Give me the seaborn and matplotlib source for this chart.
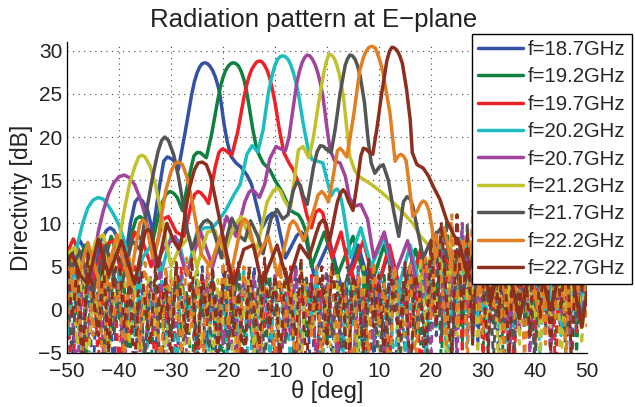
import numpy as np
import pandas as pd
import seaborn as sns
import matplotlib.pyplot as plt

# legend labels and line colours
labels = ['f=18.7GHz', 'f=19.2GHz', 'f=19.7GHz', 'f=20.2GHz', 'f=20.7GHz',
          'f=21.2GHz', 'f=21.7GHz', 'f=22.2GHz', 'f=22.7GHz']
colors = ['#3551a4', '#0f8040', '#ec2227', '#1cbcc1', '#a1449b',
          '#c1c12d', '#555555', '#e17f25', '#8c2f1e']

# solid curves: theta [deg] and directivity [dB]
theta_187 = [-50, -48.8, -47.5, -46.2, -45, -43.5, -42.4, -41.7, -41, -40, -39, -37.8, -36.9, -36.2, -35.5,
             -34.5, -33.5, -32.3, -31.4, -30.7, -30, -29.5, -28.6, -27.3, -26, -25.5, -25, -24.5, -24, -23.5,
             -23, -22.5, -22, -21.5, -21, -20.6, -19.8, -19.2, -18.5, -17.5, -16.5, -15.4, -14.5, -13.5, -12.5,
             -11.3, -10.5, -9.7, -8, -5.8, -5, -4.2, -2.5, 0.5, 3, 6, 9, 12, 15, 18,
             21, 24, 27, 30.5, 34, 37, 40, 43, 46, 49, 50]
db_187 = [4, 7, 8, 6.5, 3, 8, 9.2, 9.5, 9.2, 8, 5, 10, 12.5, 13, 12.6,
          11.5, 9, 14, 17.2, 17.7, 17.5, 17.3, 16.2, 20.5, 25, 26.4, 27.4, 28.1, 28.5, 28.6,
          28.5, 28.2, 27.7, 27, 26, 25, 21.5, 19.5, 17.8, 17, 16.5, 15.6, 14.5, 12, 9.5,
          10.8, 11.2, 10.8, 6, 8.6, 9, 8.6, 4, 8, 2, 7.5, 1, 7, 0, 6.5,
          -1, 6.5, 0, 7, -2, 6.5, -1, 7, -3, 6, 5]

theta_192 = [-50, -48.8, -46.5, -44, -41.5, -39, -37.5, -36.7, -36, -35.3, -34.5, -33.5, -32, -30.9, -30.2,
             -29.5, -28.8, -27.8, -26.3, -25.6, -25, -24.4, -24, -23.2, -22.2, -21, -20.5, -20, -19.5, -19,
             -18.5, -18, -17.5, -17, -16.5, -16, -15.5, -15.1, -14.3, -13.5, -12.3, -11, -10, -8.5, -7,
             -6.2, -5.5, -4.8, -4, -3, -0.5, 2, 5, 8, 11, 14, 17, 20, 23, 26,
             29, 32, 35.5, 39, 42, 45, 48, 50]
db_192 = [7.3, 4, 7.5, 3, 8.5, 4, 9, 10.5, 10.8, 10.5, 9.5, 8, 12, 13.4, 13.7,
          13.5, 13, 11.5, 16, 17.8, 18.2, 18.2, 18, 17.6, 20.3, 24.3, 25.8, 26.9, 27.7, 28.2,
          28.5, 28.6, 28.5, 28.2, 27.6, 26.7, 25.4, 24, 21, 18.5, 17, 16.2, 15, 13.5, 11.5,
          11.2, 11, 10.3, 9, 5, 9, 4, 8.5, 2, 7.5, 1, 7, 0, 7, -1,
          7.5, 0, 7, -2, 6.5, -1, 6.5, 4]

theta_197 = [-50, -48.8, -47, -45.5, -43, -41, -39.5, -37, -35.5, -33.8, -31.5, -30.5, -29, -27.5, -26,
             -25.4, -24.8, -24.2, -23.5, -22.8, -21.5, -20.8, -20.2, -19.6, -19.2, -18.3, -17.2, -16, -15.5, -15,
             -14.5, -14, -13.5, -13, -12.5, -12, -11.5, -11, -10.5, -10, -9.2, -8.3, -7.3, -6.5, -5.2,
             -3.8, -3, -2.2, -1.5, -0.8, 0, 1, 2.7, 4.5, 7, 9.5, 12, 15, 18, 21,
             24, 27, 30, 33, 36, 39, 42, 45, 48, 50]
db_197 = [6.5, 8.2, 6, 2, 7.5, 8, 4, 9, 8, 5, 10.5, 10.8, 9, 8.5, 12.5,
          13.4, 13.7, 13.5, 13, 12.3, 16.5, 18.2, 18.6, 18.5, 18.3, 17.9, 20.5, 24.5, 25.9, 27,
          27.8, 28.3, 28.7, 28.8, 28.7, 28.3, 27.7, 26.8, 25.5, 24, 21, 18.2, 17, 16.2, 14.3,
          10.8, 9.5, 11.3, 11.6, 11.2, 9, 6, 9, 4, 8, 2, 7.5, 0, 7, -1,
          6.5, 0, 7, -1.5, 7.5, 0, 6.5, -2, 7, 5]

theta_202 = [-50, -49, -48, -47, -46, -45, -44, -43, -42, -41, -40, -39, -38, -37,
             -35.5, -33.8, -32, -30, -28.5, -27, -25, -23.5, -22, -21, -19.5, -18, -16.7, -15.4, -14.4,
             -13.3, -12.3, -11.3, -10.8, -10.4, -10, -9.5, -9, -8.5, -8, -7.5, -7, -6.5, -6, -5.5,
             -4.5, -3.7, -2.9, -1.8, -0.8, 0, 0.8, 1.4, 1.9, 2.4, 3, 3.8, 4.5, 6.5, 8.5,
             11, 13.5, 16, 18.5, 21, 24, 27, 30, 33, 36, 39, 42, 45, 48, 50]
db_202 = [-3, 3, 7.5, 10, 11.8, 12.7, 13, 12.8, 12, 11, 9.8, 8, 5.5, 2,
          6, 7.5, 4, 8.5, 8, 4, 9, 9.5, 9.5, 10.2, 11.5, 13.2, 14.5, 18, 19,
          18.3, 20.8, 25, 26.5, 27.5, 28.3, 29, 29.3, 29.4, 29.3, 29, 28.4, 27.5, 26.4, 25,
          21.3, 18.8, 17.4, 17.2, 17, 15, 13.2, 13.8, 14, 13.6, 12, 9, 6, 9.5, 5,
          8.5, 2, 7.5, 1, 7, -1, 7.5, 0, 7, -2, 7, 0, 7.5, -1, 5]

theta_207 = [-50, -48, -45.8, -44, -43, -42, -41, -40, -39, -38, -37, -36, -35, -34, -33,
             -31.5, -29.2, -27, -24.3, -22, -19.3, -17.5, -15.8, -15, -14.4, -13.8, -13, -12, -11, -9.8,
             -8.8, -8, -7.3, -6.6, -5.8, -5.3, -4.8, -4.3, -3.8, -3.3, -2.8, -2.3, -1.8, -1.3, -0.8,
             0, 0.6, 1.5, 2.5, 3.5, 4.3, 5.3, 6.5, 7.8, 9, 11, 13, 15.5, 18, 20.5,
             23, 26, 29, 32, 35, 38, 41, 44, 47, 50]
db_207 = [4, 6.5, 2, 9, 11.5, 13.4, 14.7, 15.4, 15.6, 15.3, 14.5, 13, 11, 8, 5,
          7, 8.5, 4, 9, 5, 10.8, 8.5, 12.5, 13.6, 13.9, 13.6, 13, 14.5, 17.5, 18.9,
          18.6, 18.4, 20, 23, 26.3, 27.6, 28.6, 29.2, 29.5, 29.4, 29, 28.4, 27.5, 26.3, 24.8,
          21, 18.5, 17.2, 17, 15.5, 13, 12, 12.2, 10.5, 6, 9, 4, 8, 1, 7.5,
          0, 8, 0, 7.5, -1, 8, -1, 7, 0, 6]

theta_212 = [-50, -48.5, -46.5, -44.5, -43, -41.5, -40, -39, -38, -37, -36.2, -35.6, -35, -34, -33,
             -32, -31, -30, -28.5, -26.5, -25, -23, -21.5, -20, -18, -16.5, -15, -13.5, -11.5, -10.3,
             -9.6, -8.9, -8.3, -7.1, -6.3, -5.5, -4.6, -3.5, -2.6, -1.6, -0.6, -0.1, 0.4, 0.9, 1.4,
             1.9, 2.4, 3.2, 3.8, 4.4, 5.3, 6, 7.3, 8.8, 10.5, 12, 13.5, 15, 16.5, 18,
             19.5, 21, 23, 25.5, 28, 31, 34, 37, 40, 43, 46, 48.5, 50]
db_212 = [6.5, 7.2, 3, 8, 8.7, 4, 8, 11.5, 14.5, 16.5, 17.7, 17.9, 17.7, 16.6, 14.5,
          11.5, 8, 5, 7, 8.5, 5, 9, 9.2, 6, 9.5, 10.8, 8.5, 7, 12.5, 13.8,
          14.1, 13.7, 12.8, 11.6, 15, 18.5, 18.9, 17.6, 20, 24, 27.5, 28.8, 29.6, 29.5, 29.1,
          28.3, 27.2, 24.5, 21, 17.7, 16.2, 15.5, 15, 14.4, 13.6, 12.8, 12, 11, 10, 8.5,
          7.5, 6.5, 4, 6.5, 2, 7, 0, 7.5, -1, 7, 0, 6.5, 5]

theta_217 = [-50, -47.5, -45, -42.5, -40, -37.5, -36, -35, -34.4, -33.5, -32.5, -31.8, -31.2, -30.5, -29.5,
             -28.6, -27.6, -26.8, -26, -24.5, -23.7, -23, -22.3, -21.5, -20.3, -18.3, -16.7, -15.8, -14.7, -13.3,
             -12.3, -10.8, -9.6, -8.5, -7.5, -6.5, -5.8, -5.1, -4.6, -3.8, -2.6, -1.9, -1.3, -0.6, -0.2,
             0.8, 1.6, 2.5, 3.5, 3.9, 4.4, 4.9, 5.4, 5.9, 6.4, 7.2, 7.9, 8.5, 9.2, 10,
             10.8, 11.8, 12.8, 13.8, 14.7, 15.4, 16, 16.5, 17.5, 18.5, 20, 22, 24, 26, 28.5,
             31, 34, 37, 40, 43, 46, 49, 50]
db_217 = [4, 6.7, 2, 7.5, 1.5, 8, 7, 10.4, 12.5, 15.5, 18.3, 19.6, 20, 19.6, 18,
          15.5, 12, 9, 7, 9.5, 10.2, 10.4, 10, 8.5, 6, 10.6, 8.5, 8, 10.3, 8.5,
          6.5, 10.5, 11.6, 10.5, 11, 13.8, 14.8, 14.4, 13.2, 12.2, 16.5, 18.3, 19, 18.9, 18.6,
          18.2, 21, 25, 28.3, 29, 29.5, 29.4, 29, 28.2, 27, 24, 19.7, 17, 15.8, 16.5,
          16.8, 15, 11.5, 8.5, 12.5, 13.1, 12.8, 12, 9, 6, 8, 9.5, 6, 2, 7.5,
          1, 7, -1, 7, 0, 7.5, -1, 2]

theta_222 = [-50, -48.5, -46, -43.2, -40.4, -38, -36, -35.4, -34.8, -33.5, -32.5, -31.8, -31, -30, -29.3,
             -28.6, -27.8, -27, -26, -25, -24.2, -22.5, -20.5, -18.5, -16.4, -15.8, -15.2, -13.5, -11.3, -9.5,
             -7.1, -6.5, -5.9, -4.5, -3.3, -1.7, -1, -0.4, 0.3, 1.2, 2, 2.5, 3, 3.8, 5,
             6.3, 7, 7.5, 8.1, 8.7, 9.3, 9.8, 10.3, 10.8, 12.1, 13.1, 13.7, 14.2, 14.7, 15.2,
             15.8, 16.5, 17.4, 18, 18.5, 19, 19.6, 20.2, 20.8, 22.5, 24.5, 27, 29.5, 32, 35,
             38, 41, 44, 47, 50]
db_222 = [5, 2, 7.8, 2, 8.7, 3, 10, 10.4, 10, 6, 8, 11, 13.8, 16, 16.9,
          17.1, 16.8, 15.5, 12.8, 9.5, 6.5, 5, 8.5, 4, 10.1, 10.5, 10.1, 6, 8.5, 4,
          9.9, 10.3, 9.9, 8, 10, 13.3, 13.7, 13.3, 12.5, 15.5, 18.4, 18.7, 18.4, 17.7, 22,
          27.7, 29.2, 29.9, 30.4, 30.5, 30.3, 29.5, 28.6, 27.3, 22.8, 17.2, 17.8, 18, 17.8, 17.3,
          14.5, 10.8, 11.5, 12.3, 12.6, 12.4, 11.5, 9.5, 6, 9.5, 4, 8.5, 2, 7.5, 0,
          7, -1, 7, 0, 6]

theta_227 = [-50, -49, -47.5, -46, -44, -42, -39.5, -37, -35, -34.4, -33.8, -32.5, -30.8, -29.5, -28.5,
             -28, -27.3, -26.5, -25.5, -24.8, -24, -23.2, -22.4, -21.5, -20.5, -19.5, -18, -16, -14.2, -12.5,
             -9.6, -7.5, -5.2, -3.5, -2, -1.4, -0.8, -0.2, 0.5, 2, 2.6, 3.1, 3.6, 4.2, 5,
             6, 6.5, 7, 7.5, 8, 8.8, 9.6, 10.5, 11.5, 12, 12.5, 13, 13.5, 14, 14.5,
             15.3, 16, 16.4, 17.3, 18.5, 19.5, 20.4, 21.7, 23, 24.5, 25.5, 27, 29, 31.5, 34,
             37, 40, 43, 46, 49, 50]
db_227 = [5.5, 6.5, 4, 3, 8.2, 4, 8, 3, 9, 9.3, 9, 5, 10, 8, 7,
          8, 11, 14, 16.2, 17, 17.1, 16.8, 15.5, 13, 10, 7, 3, 7, 7.5, 3,
          7.5, 3, 7.5, 6, 9, 10, 10.4, 10, 8, 12.5, 13.5, 13.9, 13.5, 12.5, 11.5,
          15.5, 17.8, 18.7, 18.6, 18.3, 18, 21, 25, 28.8, 29.9, 30.4, 30.3, 30, 29.4, 28.5,
          25.5, 22, 18.2, 16.8, 16.4, 15.5, 14.3, 12.8, 10.4, 8.5, 7.5, 4, 8, 1, 7.5,
          -1, 7, 0, 7.5, -2, 2]

# dashed curves, sampled every degree from -50 to 50
theta_dash = list(range(-50, 51))
dash_187 = [4, -6, 5.5, -3, 3, -8, 6, -2, 2.5, -7, 5, -4, 3.5, -9, 4.5, -1, 2, -6, 5, -3,
            1.5, -8, 4, -2, 3, -7, 5, -4, 2, -9, 4.5, -3, 1, -6, 3.5, -2, 5, -8, 2.5, -4,
            4, -7, 1.5, -3, 5, -5, 3, -9, 4, -2, 2, -6, 4.5, -4, 1, -8, 3.5, -2, 5, -6,
            2.5, -3, 4, -9, 3, -5, 5.5, -2, 2, -7, 7, -3, 9.5, -1, 6, -5, 10, 0, 8, -4,
            6.5, -2, 9, -6, 7.5, 1, 10.5, -3, 8, -5, 9, 0, 6, -4, 10, -2, 7, -6, 9.5, -1, 6]
dash_192 = [-5, 6, -2, 4, -8, 5, -3, 2, -6, 6.5, -1, 3, -7, 5, -4, 1.5, -9, 4, -2, 3,
            -6, 5, -3, 2, -8, 4.5, -1, 3, -5, 1, -7, 4, -2, 5.5, -4, 2, -9, 3.5, -3, 4,
            -6, 2.5, -1, 4, -8, 5, -3, 1.5, -6, 3, -4, 5, -7, 2, -2, 4.5, -5, 3, -9, 1,
            -3, 4, -6, 5, -1, 2.5, -8, 4, -4, 6, -2, 8, -6, 10.5, -1, 7, -4, 9, 0, 6,
            -5, 9.5, -2, 7, -7, 10, -1, 8.5, -3, 6, -6, 9, 1, 7.5, -4, 10, -2, 6, -5, 8.5, 2]
dash_197 = [2, -9, 3.5, 1, -4, 5, -6, 3, -2, 4.5, -7, 2, -3, 5, -5, 1, 4, -8, 2.5, -1,
            3.5, -6, 5, -3, 1, -9, 4, -2, 3, -5, 2, -4, 5, -7, 3, 0, -5, 4.5, -2, 1,
            -8, 3.5, -3, 5, -6, 2, -1, 4, -7, 3, -2, 5, -5, 1.5, -9, 4, -3, 2.5, -6, 5,
            -1, 3, -7, 4.5, -4, 2, -2, 5.5, -8, 3, 1, 9, -4, 7, -1, 11, -5, 8, -2, 10,
            -6, 7, -1, 9, -3, 6.5, -7, 10, 0, 8, -4, 9, -2, 7, -8, 10, -1, 6.5, -3, 9, 3]
dash_202 = [-3, 1, 4, -6, 2.5, -2, 5, -8, 3, -1, 4.5, -5, 1, -3, 3.5, -9, 2, 0, 5, -4,
            2, -7, 4, -1, 1.5, -5, 3, -8, 4.5, -2, 1, -6, 3.5, -3, 5, -9, 2, -1, 4, -6,
            2.5, -2, 4.5, -7, 1, -4, 3, -1, 5, -8, 3, -3, 1.5, -6, 4, -2, 5, -9, 2, -4,
            4.5, -1, 2, -7, 3.5, -5, 1, -2, 4, -6, 6, -2, 8.5, -7, 5, 0, 9.5, -4, 7, -1,
            10, -5, 6, -2, 8, -8, 9, 1, 6.5, -3, 8, -6, 10, 0, 7, -3, 8.5, -7, 6, 0, 7]
dash_207 = [3, -1, -7, 4, -3, 1.5, 5, -5, 2, -2, 3, -8, 4.5, -1, 1, -6, 3.5, -3, 5.5, -9,
            2.5, -2, 4, -5, 1, 3, -7, 4.5, -1, 2, -4, 5, -8, 1.5, 3, -2, 4, -6, 2.5, -1,
            4, -9, 2, -3, 5, -5, 1, 3.5, -7, 2, 4.5, -1, -5, 3, 1, -8, 5, -2, 2.5, -4,
            3.5, -6, 1, 4, -3, 5, -9, 2, -1, 4.5, -5, 6.5, 9, -2, 8, -6, 10, -3, 7.5, 1,
            9, -4, 6, -1, 10.5, -7, 8, -2, 9.5, -5, 7, 1, 9, -6, 8, -1, 10, -4, 7, -2, 5]
dash_212 = [5, 2, -4, 6, -7, 3, -1, 4.5, -6, 2, 0, 5, -4, 3, -8, 2, 4, -3, 1, -6,
            4.5, -1, 3, -9, 2, 5, -4, 1, -6, 3.5, -2, 4, -7, 2.5, -1, 5, -5, 3, -8, 1.5,
            3, -4, 5, -1, 2, -7, 4, -3, 1, -5, 2.5, -9, 4, 0, -4, 3, -6, 5, -2, 1,
            -5, 3, -1, 5, -7, 2, 4, -4, 6, -2, 8, -1, 5.5, -6, 9, -3, 7, 1, 10, -5,
            7.5, -2, 9, -7, 6, 0, 10, -4, 8, -1, 9.5, -5, 7, -2, 9, -7, 6.5, 0, 8, -4, 7]
dash_217 = [1, -4, 3, -8, 5, 0, 2, -6, 4, -3, 2, -7, 4.5, -2, 1, -5, 3, 4, -8, 2,
            -3, 5, -6, 1, 3.5, -4, 2, -9, 4, -1, 3, -5, 1, 4.5, -8, 2, -2, 4, -6, 3,
            -1, 5, -4, 1.5, -9, 3, 4, -2, 2, -6, 4, -3, 2, -7, 5, -1, 3, -5, 1, 4,
            -8, 2.5, -2, 4, -6, 3, 5, -3, 2, -9, 5, 8, -3, 9.5, -6, 7, -1, 10, -4, 8,
            1, 9, -6, 7, -2, 10, -5, 8, -1, 6, -7, 9.5, -3, 8, 0, 6, -6, 9, -2, 7, 1]
dash_222 = [-2, 6, 1, -5, 6.5, -3, 4, -8, 6, -1, 3, -6, 6, 0, -4, 5.5, -2, 2, -7, 5,
            -1, 4, -5, 6, -2, 3, -8, 5, 0, -4, 5.5, -2, 3, -6, 5, -1, 2, -7, 4.5, 0,
            -5, 5, -2, 3, -8, 4.5, 1, -3, 5, -6, 2, 5, -4, 3.5, -1, -7, 4, 1, -5, 5.5,
            -2, 3, -8, 5, 0, -3, 5.5, -6, 3, 6, -1, 9, 4, -4, 11, -2, 8, -6, 11.5, 2,
            -3, 10, 0, 7, -5, 10.5, -1, 8, -6, 10, 1, 8, -4, 10.5, -1, 7, -5, 9.5, 0, 8, -2]
dash_227 = [6, -1, 5, -6, 6.5, 2, -3, 5.5, -5, 4, 6, -2, 3, -7, 6, 1, -4, 5, -1, 4,
            -6, 5.5, 1, -3, 6, -7, 4, -1, 5, -5, 3, 6, -3, 2, -8, 5, 0, -4, 6, -2,
            4, -6, 5, 1, -3, 6, -7, 3, 0, 5, -4, 5.5, -1, 3, -8, 4, 2, -5, 6, -2,
            4, -6, 5, 0, -3, 5.5, -8, 4, 1, -4, 8, -2, 10, 1, -6, 11, -1, 9, -4, 10,
            3, -5, 9.5, -1, 8, -6, 10, 0, 7, -3, 9, -1, 10.5, -5, 8, 0, 9.5, -6, 7, 2, 9]

solid = [(theta_187, db_187), (theta_192, db_192), (theta_197, db_197),
         (theta_202, db_202), (theta_207, db_207), (theta_212, db_212),
         (theta_217, db_217), (theta_222, db_222), (theta_227, db_227)]
dashed = [dash_187, dash_192, dash_197, dash_202, dash_207,
          dash_212, dash_217, dash_222, dash_227]

sns.set_style('white')
plt.rcParams['font.family'] = ['Liberation Sans', 'DejaVu Sans']

fig = plt.figure(figsize=(6.35, 4.07), dpi=100)
ax = fig.add_axes([67 / 635, 1 - 353 / 407, 520 / 635, 311 / 407])

handles = []
for (th, db), dd, lab, col in zip(solid, dashed, labels, colors):
    sns.lineplot(x=th, y=db, color=col, linewidth=2.5, ax=ax)
    handles.append(ax.lines[-1])
    sns.lineplot(x=theta_dash, y=dd, color=col, linewidth=2.1,
                 linestyle=(0, (2.6, 1.9)), ax=ax)

ax.set_xlim(-50, 50)
ax.set_ylim(-5, 31)
ax.set_xticks(np.arange(-50, 51, 10))
ax.set_yticks(np.arange(-5, 31, 5))
ax.grid(True, color='#444444', linestyle=(0, (1, 4)), linewidth=0.8)
ax.tick_params(direction='in', length=4, width=0.8, labelsize=15, colors='#222222')
ax.tick_params(axis='x', pad=6.5)
ax.tick_params(axis='y', pad=3.5)
for s in ['top', 'right']:
    ax.spines[s].set_visible(False)
for s in ['left', 'bottom']:
    ax.spines[s].set_color('black')
    ax.spines[s].set_linewidth(0.9)

ax.set_title('Radiation pattern at E\u2212plane', fontsize=18.5, pad=11, x=0.475, color='#222222')
ax.set_xlabel('\u03b8 [deg]', fontsize=17, labelpad=-1, color='#222222')
ax.set_ylabel('Directivity [dB]', fontsize=16.5, labelpad=4, color='#222222')

leg = ax.legend(handles, labels, loc='upper left',
                bbox_to_anchor=(472 / 635, 1 - 34 / 407), bbox_transform=fig.transFigure,
                fontsize=14.7, frameon=True, fancybox=False, framealpha=1,
                edgecolor='black', borderaxespad=0, borderpad=0.3,
                labelspacing=0.41, handlelength=2.2, handletextpad=0.25)
leg.get_frame().set_linewidth(1.0)
leg.set_zorder(10)

fig.savefig('out.png', dpi=100)
